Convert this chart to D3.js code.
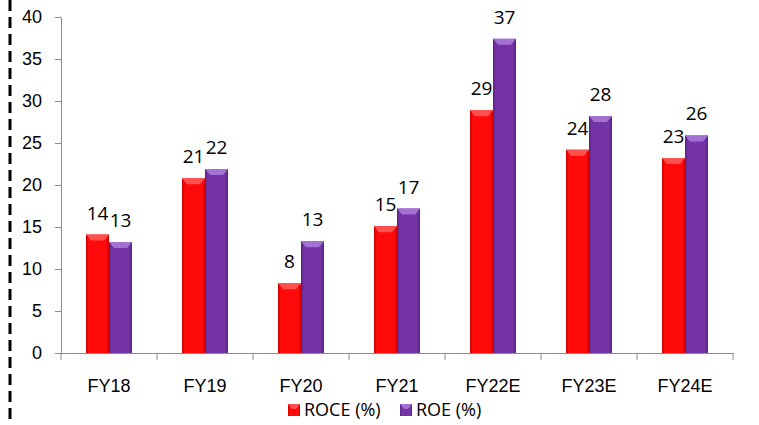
<!DOCTYPE html>
<html>
<head>
<meta charset="utf-8">
<script src="https://cdn.jsdelivr.net/npm/d3@7"></script>
<style>
  body { margin: 0; background: #fff; }
  svg { display: block; font-family: "Open Sans", "Liberation Sans", sans-serif; }
  .axis path, .axis line { stroke: #8c8c8c; }
  .axis text { font-size: 18px; fill: #000; }
</style>
</head>
<body>
<svg width="759" height="425"></svg>
<script>
var years = ["FY18", "FY19", "FY20", "FY21", "FY22E", "FY23E", "FY24E"];
var roce = [14.1, 20.8, 8.3, 15.1, 28.9, 24.2, 23.2];
var roe = [13.2, 21.9, 13.3, 17.2, 37.4, 28.2, 25.9];
var roceLabels = ["14", "21", "8", "15", "29", "24", "23"];
var roeLabels = ["13", "22", "13", "17", "37", "28", "26"];
var seriesNames = ["ROCE (%)", "ROE (%)"];
var yTicks = [0, 5, 10, 15, 20, 25, 30, 35, 40];

var margin = {top: 17, left: 61},
    width = 672,
    height = 336;

var svg = d3.select("svg");

// dashed border on the left
svg.append("line")
    .attr("x1", 10).attr("x2", 10)
    .attr("y1", 0).attr("y2", 425)
    .style("stroke", "#000")
    .style("stroke-width", 3)
    .style("stroke-dasharray", "11,6");

var g = svg.append("g")
    .attr("transform", "translate(" + margin.left + "," + margin.top + ")");

var x = d3.scaleBand().domain(years).range([0, width]),
    y = d3.scaleLinear().domain([0, 40]).range([height, 0]);

var x1 = d3.scaleBand().domain([0, 1]).range([0, 46]);

// gradients for the bevelled bars
var defs = svg.append("defs");
var styles = [
  {id: "gRed", edge: "#c80000", mid: "#ff0a0a", top: "#ff5050"},
  {id: "gPurple", edge: "#55217d", mid: "#7533a8", top: "#a470d2"}
];
styles.forEach(function(s) {
  var lg = defs.append("linearGradient").attr("id", s.id)
      .attr("x1", 0).attr("x2", 1).attr("y1", 0).attr("y2", 0);
  lg.append("stop").attr("offset", "0%").attr("stop-color", s.edge);
  lg.append("stop").attr("offset", "12%").attr("stop-color", s.mid);
  lg.append("stop").attr("offset", "88%").attr("stop-color", s.mid);
  lg.append("stop").attr("offset", "100%").attr("stop-color", s.edge);
});

// y axis
g.append("g")
    .attr("class", "axis")
    .call(d3.axisLeft(y).tickValues(yTicks).tickSize(6).tickPadding(13).tickSizeOuter(0));

// x axis
var xAxis = g.append("g")
    .attr("class", "axis")
    .attr("transform", "translate(0," + height + ")")
    .call(d3.axisBottom(x).tickSize(0).tickPadding(33).tickSizeOuter(0));
xAxis.selectAll(".tick text").attr("dy", "0.32em");
xAxis.selectAll(".bound")
    .data(d3.range(years.length + 1))
    .enter().append("line")
    .attr("x1", function(i) { return i * x.bandwidth(); })
    .attr("x2", function(i) { return i * x.bandwidth(); })
    .attr("y1", 0).attr("y2", 7)
    .style("stroke", "#8c8c8c");

var series = [roce, roe];
var labels = [roceLabels, roeLabels];

series.forEach(function(vals, si) {
  var s = styles[si];
  var grp = g.append("g");
  var bw = x1.bandwidth();
  years.forEach(function(yr, i) {
    var bx = x(yr) + (x.bandwidth() - 46) / 2 + x1(si);
    var by = y(vals[i]);
    var bh = height - by;
    grp.append("rect")
        .attr("x", bx).attr("y", by)
        .attr("width", bw).attr("height", bh)
        .style("fill", "url(#" + s.id + ")");
    // top bevel
    grp.append("path")
        .attr("d", "M" + bx + "," + by + "L" + (bx + bw) + "," + by +
              "L" + (bx + bw - 5) + "," + (by + 6) + "L" + (bx + 5) + "," + (by + 6) + "Z")
        .style("fill", s.top);
    grp.append("text")
        .attr("x", bx + bw / 2)
        .attr("y", by - 15)
        .attr("text-anchor", "middle")
        .style("font-size", "19px")
        .text(labels[si][i]);
  });
});

// legend
var legend = svg.append("g").attr("transform", "translate(288,404)");
var legX = [0, 112];
seriesNames.forEach(function(n, i) {
  var lg = legend.append("g").attr("transform", "translate(" + legX[i] + ",0)");
  lg.append("rect").attr("width", 12).attr("height", 12)
      .style("fill", "url(#" + styles[i].id + ")");
  lg.append("path").attr("d", "M0,0L12,0L8,5L4,5Z").style("fill", styles[i].top);
  lg.append("text").attr("x", 16).attr("y", 6).attr("dy", "0.35em")
      .style("font-size", "18px").text(n);
});
</script>
</body>
</html>
